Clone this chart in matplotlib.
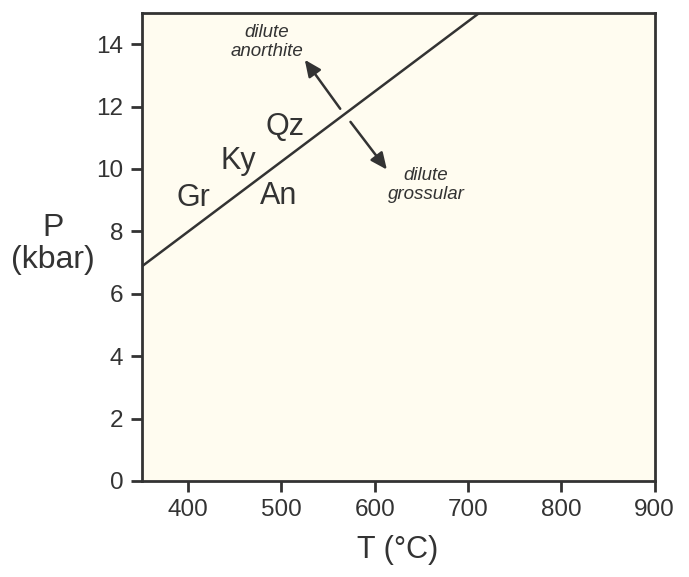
import matplotlib.pyplot as plt
import numpy as np

# reaction line Gr + Ky + Qz = An (end points)
line_T = [350, 712]
line_P = [6.87, 15.0]

# phase labels
phase_names = ["Qz", "Ky", "Gr", "An"]
phase_T = [504, 454, 406, 497]
phase_P = [11.35, 10.24, 9.06, 9.12]

# arrows (tail T, tail P, head T, head P)
arrow_up = [563, 11.93, 525, 13.5]
arrow_down = [574, 11.51, 613, 9.98]

x_ticks = [400, 500, 600, 700, 800, 900]
y_ticks = [0, 2, 4, 6, 8, 10, 12, 14]

ink = "#333333"
plt.rcParams['font.family'] = ['Liberation Sans', 'DejaVu Sans']

fig = plt.figure(figsize=(6.89, 5.77), dpi=100)
ax = fig.add_axes([0.2054, 0.1664, 0.7447, 0.8111])
ax.set_facecolor("#fffcf0")

ax.plot(line_T, line_P, color=ink, lw=1.8)

for name, t, p in zip(phase_names, phase_T, phase_P):
    ax.text(t, p, name, fontsize=22, color=ink, ha="center", va="center")

for a in (arrow_up, arrow_down):
    ax.annotate("", xy=(a[2], a[3]), xytext=(a[0], a[1]),
                arrowprops=dict(arrowstyle="-|>,head_length=1.0,head_width=0.45",
                                color=ink, lw=1.8, shrinkA=0, shrinkB=0))

ax.text(484, 14.06, "dilute\nanorthite", fontsize=13.5, style="italic", color=ink,
        ha="center", va="center", linespacing=1.15)
ax.text(655, 9.5, "dilute\ngrossular", fontsize=13.5, style="italic", color=ink,
        ha="center", va="center", linespacing=1.15)

ax.set_xlim(350, 900)
ax.set_ylim(0, 15)
ax.set_xticks(x_ticks)
ax.set_yticks(y_ticks)
ax.tick_params(direction="out", length=8, width=2, color=ink, labelcolor=ink,
               labelsize=17.5, pad=5)
for s in ax.spines.values():
    s.set_linewidth(2)
    s.set_color(ink)

ax.set_xlabel("T (°C)", fontsize=22, color=ink, labelpad=10)
fig.text(53 / 689, 1 - 244 / 577, "P\n(kbar)", fontsize=23, color=ink,
         ha="center", va="center", linespacing=1.1)

fig.savefig("out.png", dpi=100)
